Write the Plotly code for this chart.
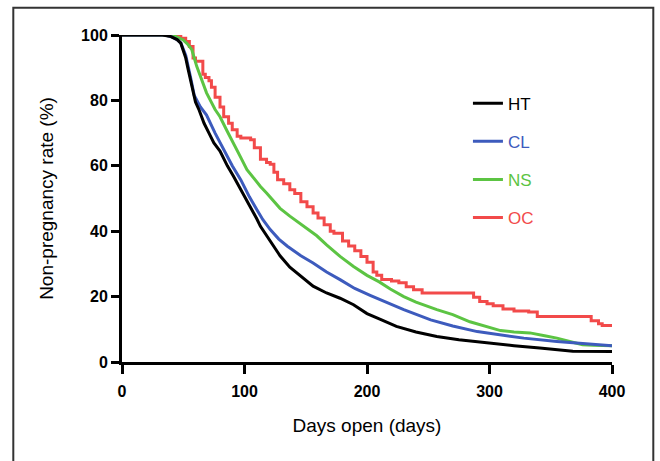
import plotly.graph_objects as go

# ---- data (days open, non-pregnancy rate %) ----
ht_days = [0, 33, 40, 45, 48, 50, 52, 54, 56, 58, 60, 63, 67, 71, 75, 80, 86, 91, 98, 105, 110, 113, 118, 124, 129, 137, 146, 156, 167, 178, 189, 200, 210, 224, 240, 257, 275, 298, 320, 341, 355, 368, 400]
ht_rate = [100, 100, 99.5, 98.6, 97.5, 95.5, 93, 89.5, 86.3, 82.5, 79.5, 77, 73, 70, 67, 64.5, 60, 56.8, 52, 47.6, 43.8, 41.5, 38.6, 35.2, 32.5, 29, 26.2, 23.2, 21.1, 19.5, 17.5, 14.8, 13.2, 10.9, 9.2, 7.8, 6.8, 5.8, 5, 4.3, 3.7, 3.3, 3.2]

cl_days = [0, 35, 40, 45, 48, 52, 56, 59, 64, 69, 76, 83, 90, 97, 104, 110, 115, 121, 128, 135, 146, 156, 167, 178, 190, 203, 219, 230, 252, 270, 290, 309, 328, 355, 371, 400]
cl_rate = [100, 100, 99.5, 98.6, 97.6, 93.8, 87, 81.5, 78, 75.5, 70, 65, 60, 55.7, 50.5, 46.6, 43.5, 40.5, 37.6, 35.4, 32.5, 30.3, 27.5, 25.2, 22.5, 20.3, 17.8, 16, 12.9, 11, 9.3, 8.3, 7.3, 6.3, 5.8, 5]

ns_days = [0, 38, 43, 48, 50, 54, 57, 61, 65, 69, 76, 80, 86, 91, 97, 102, 108, 113, 118, 124, 129, 137, 146, 152, 159, 167, 178, 189, 200, 210, 219, 230, 240, 257, 270, 284, 300, 309, 320, 333, 345, 355, 363, 371, 376, 385, 400]
ns_rate = [100, 100, 99.7, 99, 98.5, 97, 95.5, 90.4, 86, 82.3, 77.2, 75, 70.5, 67, 62.5, 58.8, 56, 53.7, 51.7, 49, 47, 44.6, 42.2, 40.6, 38.6, 35.8, 32.3, 29.2, 26.5, 24.5, 22.3, 20, 18.3, 16, 14.5, 12.3, 10.7, 9.6, 9.2, 8.9, 8, 7.3, 6.5, 5.7, 5.3, 5.1, 5]

oc_days = [0, 42, 48, 52, 55, 58, 60, 64, 66, 68, 71, 73, 76, 80, 83, 87, 90, 94, 97, 105, 108, 113, 118, 121, 124, 127, 132, 137, 141, 146, 151, 156, 160, 165, 170, 173, 180, 185, 190, 195, 200, 205, 208, 212, 220, 226, 232, 238, 245, 285, 287, 292, 298, 303, 311, 320, 332, 339, 381, 383, 389, 392, 400]
oc_rate = [100, 100, 99, 98, 96.5, 93, 92, 92, 88, 87, 86, 84, 81, 78, 75, 73, 71, 69, 68.5, 68, 65.5, 62, 61, 60.5, 58, 55.7, 54.5, 52.7, 51.5, 49, 47.5, 45.6, 44, 42, 40, 39.4, 37, 35.5, 34, 32.3, 30.5, 27.5, 26.5, 25.2, 24.8, 24.2, 23, 22.1, 21.1, 21.1, 19.8, 18.5, 17.8, 17.2, 16.2, 15.6, 15.3, 13.9, 13.9, 12.6, 11.7, 11.2, 11]

x_ticks = [0, 100, 200, 300, 400]
y_ticks = [0, 20, 40, 60, 80, 100]

colors = {"HT": "#000000", "CL": "#3d5bbd", "NS": "#5cc443", "OC": "#f24a4a"}
ranks = {"HT": 1, "CL": 2, "NS": 3, "OC": 4}

series = [
    ("OC", oc_days, oc_rate, "hv"),
    ("NS", ns_days, ns_rate, "linear"),
    ("CL", cl_days, cl_rate, "linear"),
    ("HT", ht_days, ht_rate, "linear"),
]

FONT = "Liberation Sans, Arial, sans-serif"

fig = go.Figure()
for name, xs, ys, shape in series:
    fig.add_trace(go.Scatter(
        x=xs, y=ys, mode="lines",
        name=f"<span style='color:{colors[name]}'>{name}</span>",
        legendgroup=name, legendrank=ranks[name],
        line=dict(color=colors[name], width=3, shape=shape),
        cliponaxis=False,
    ))

fig.update_layout(
    width=660, height=461,
    margin=dict(l=121.7, r=48.3, t=35.3, b=98.7, autoexpand=False),
    paper_bgcolor="white", plot_bgcolor="white",
    font=dict(family=FONT, color="#000"),
    showlegend=True,
    legend=dict(
        x=0.706, y=0.845, xanchor="left", yanchor="top",
        traceorder="grouped", tracegroupgap=13,
        font=dict(size=17), bgcolor="rgba(0,0,0,0)",
    ),
    xaxis=dict(
        range=[0, 400], tickvals=x_ticks, ticks="outside", ticklen=9, tickwidth=3,
        tickcolor="#000", showline=True, linewidth=3, linecolor="#000",
        showgrid=False, zeroline=False, automargin=False, ticklabelstandoff=4,
        tickfont=dict(size=16, family=FONT, weight="bold"),
        title=dict(text="Days open (days)", font=dict(size=19), standoff=20),
    ),
    yaxis=dict(
        range=[0, 100], tickvals=y_ticks, ticks="outside", ticklen=8, tickwidth=3,
        tickcolor="#000", showline=True, linewidth=3, linecolor="#000",
        showgrid=False, zeroline=False, automargin=False,
        tickfont=dict(size=16, family=FONT, weight="bold"),
        title=dict(text="Non-pregnancy rate (%)", font=dict(size=19), standoff=23),
    ),
)

# outer frame around the figure
fig.add_shape(type="rect", xref="paper", yref="paper",
              x0=(13 - 121.7) / 490, x1=(653 - 121.7) / 490,
              y0=-0.5, y1=(362.3 - 8) / 327,
              line=dict(color="#333", width=2), fillcolor="rgba(0,0,0,0)", layer="below")

fig.write_html("out.html", config={"displayModeBar": False},
               post_script="document.body.style.margin='0';")
